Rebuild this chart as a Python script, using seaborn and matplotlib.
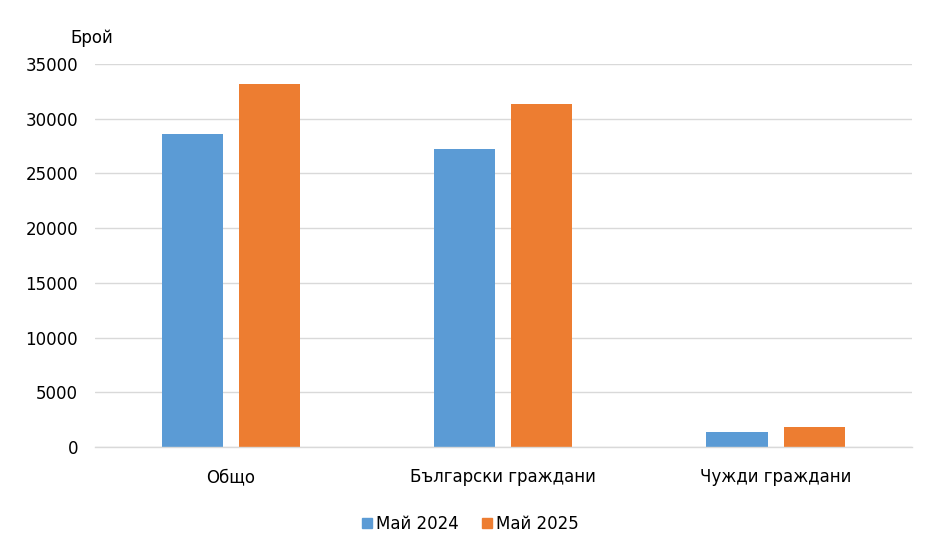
import matplotlib
matplotlib.use("Agg")
import matplotlib.pyplot as plt
import seaborn as sns
import pandas as pd
from matplotlib.lines import Line2D

categories = ["Общо", "Български граждани", "Чужди граждани"]
may_2024 = [28600, 27250, 1380]
may_2025 = [33150, 31350, 1830]
series_names = ["Май 2024", "Май 2025"]
y_ticks = [0, 5000, 10000, 15000, 20000, 25000, 30000, 35000]
colors = ["#5B9BD5", "#ED7D31"]

df = pd.DataFrame({
    "cat": categories * 2,
    "val": may_2024 + may_2025,
    "series": [series_names[0]] * 3 + [series_names[1]] * 3,
})

sns.set_theme(style="white")
plt.rcParams["font.family"] = ["DejaVu Sans"]
plt.rcParams["text.color"] = "#000000"

fig = plt.figure(figsize=(9.37, 5.56), dpi=100)
ax = fig.add_axes([0.101, 0.196, 0.872, 0.689])

sns.barplot(data=df, x="cat", y="val", hue="series", palette=colors,
            width=0.566, gap=0.208, saturation=1, ax=ax, legend=False,
            linewidth=0)

ax.set_ylim(0, 35000)
ax.set_xlim(-0.5, 2.5)
ax.set_yticks(y_ticks)
ax.set_yticklabels([str(t) for t in y_ticks])
ax.yaxis.grid(True, color="#d9d9d9", linewidth=1)
ax.set_axisbelow(True)
for s in ["left", "right", "top"]:
    ax.spines[s].set_visible(False)
ax.spines["bottom"].set_color("#d9d9d9")
ax.spines["bottom"].set_linewidth(1)
ax.tick_params(axis="y", length=0, pad=12, labelsize=12, labelcolor="#000000")
ax.tick_params(axis="x", length=0, pad=15, labelsize=12, labelcolor="#000000")
ax.set_xlabel("")
ax.set_ylabel("")

fig.text(70 / 937, 1 - 38 / 556, "Брой", fontsize=12, ha="left", va="center",
         color="#000000")

handles = [Line2D([0], [0], marker="s", linestyle="none", markersize=7.5,
                  markerfacecolor=c, markeredgecolor=c) for c in colors]
leg = fig.legend(handles, series_names, loc="center", bbox_to_anchor=(0.5, 1 - 524 / 556),
                 ncol=2, frameon=False, fontsize=12, handletextpad=0.05, columnspacing=1.2,
                 handlelength=1.0)
for t in leg.get_texts():
    t.set_color("#000000")

fig.savefig("out.png", dpi=100)
